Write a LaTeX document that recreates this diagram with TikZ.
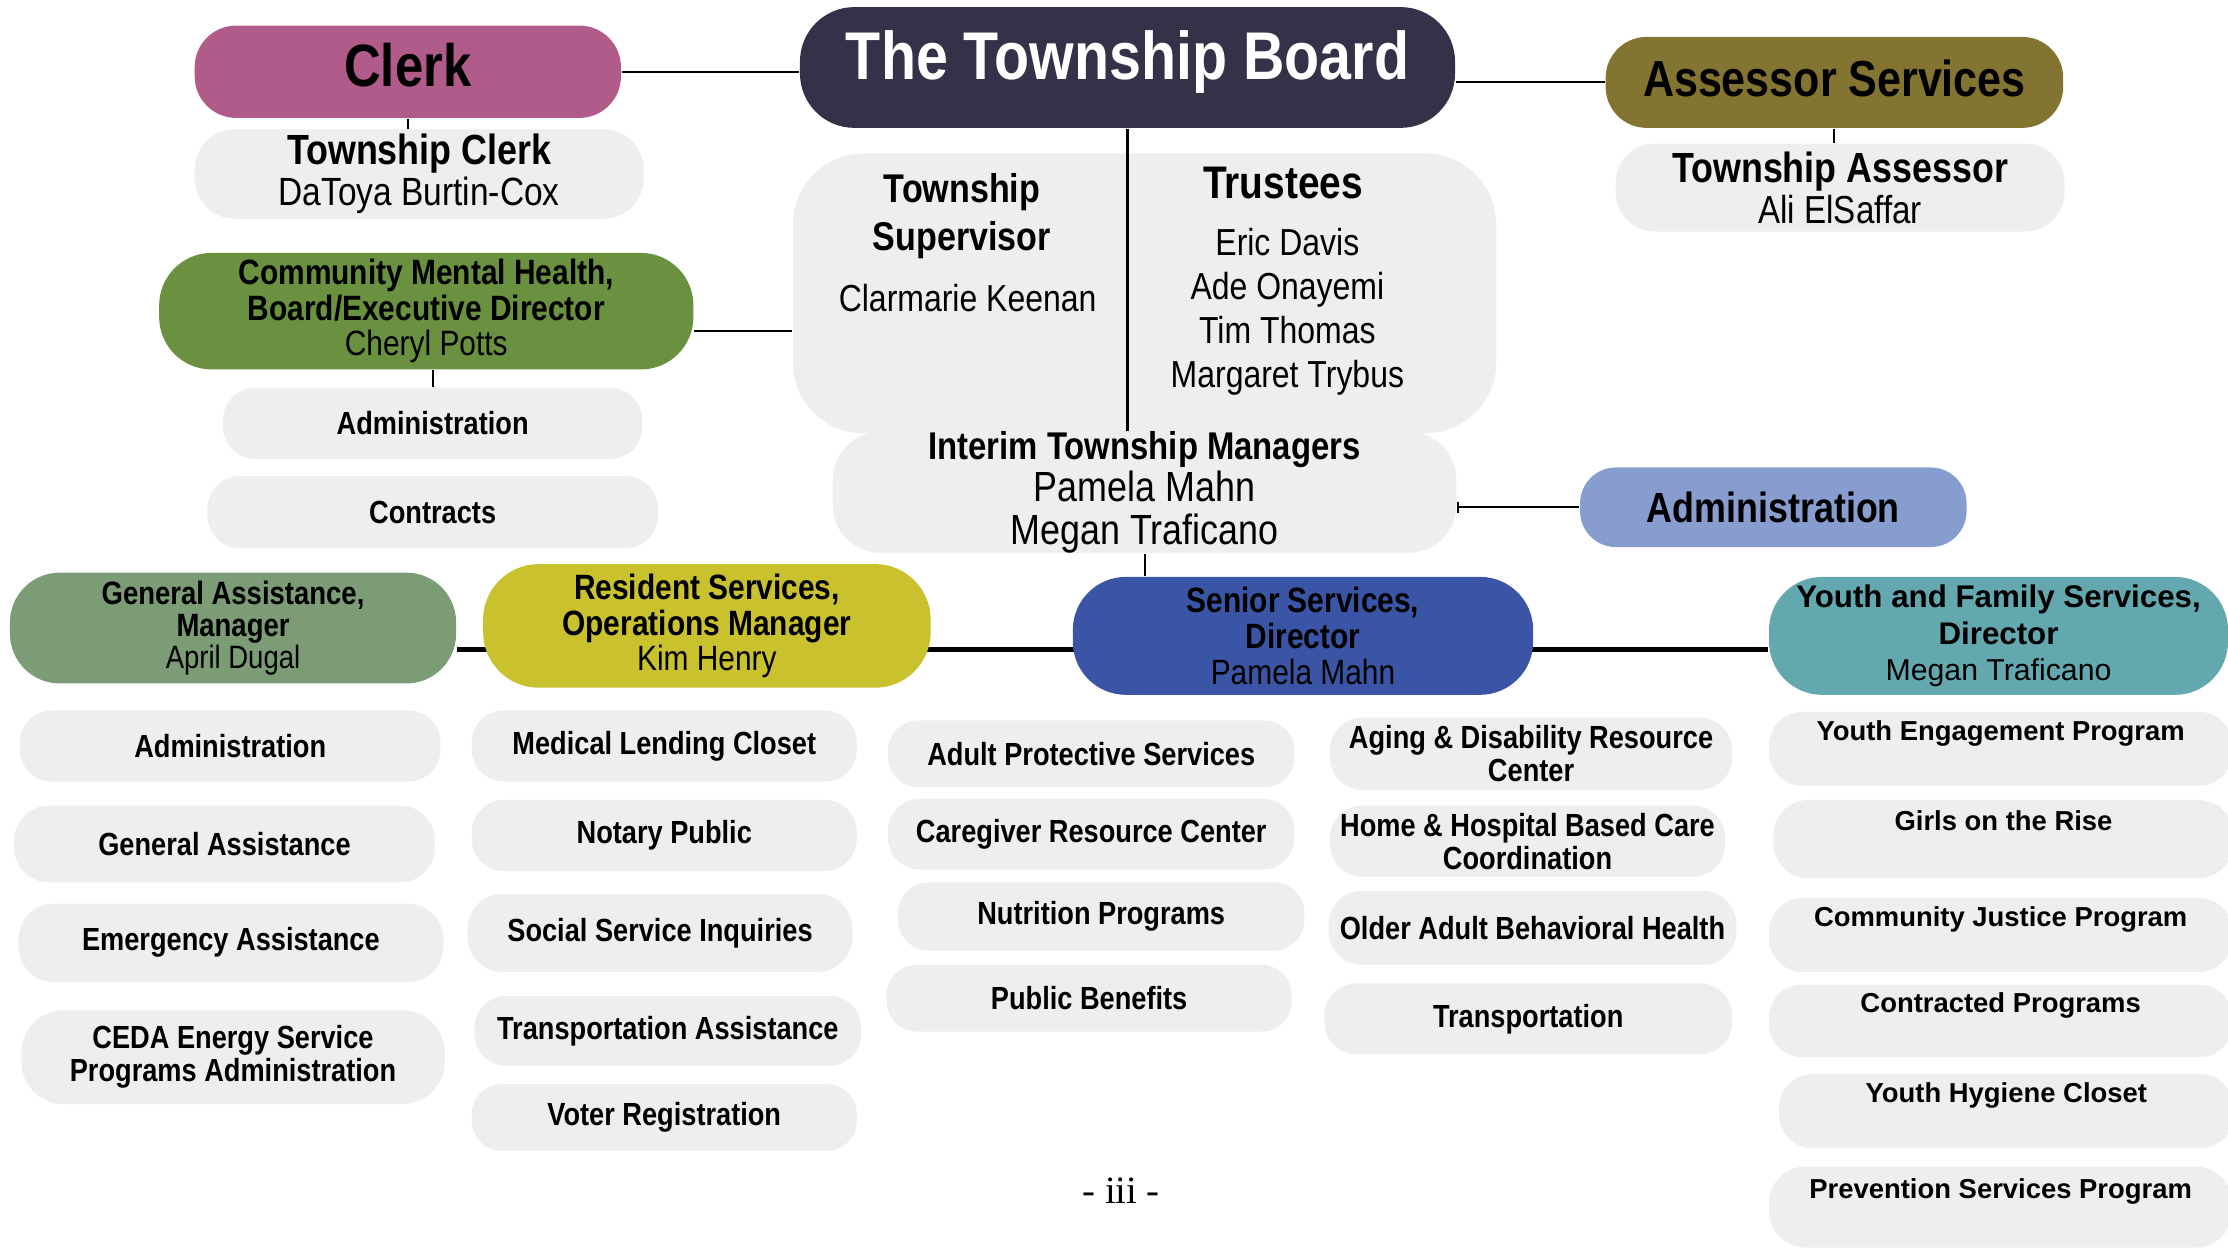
\documentclass[tikz,border=0pt]{standalone}
\usepackage{fontspec}
\setmainfont{Liberation Sans}[FakeStretch=0.85]
\newfontfamily\widefont{Liberation Sans}
\newfontfamily\pagefont{Liberation Serif}
\usetikzlibrary{arrows.meta,backgrounds}
\definecolor{clerkpink}{HTML}{B15B8B}
\definecolor{boardnavy}{HTML}{343248}
\definecolor{assessorolive}{HTML}{837431}
\definecolor{mentalgreen}{HTML}{6A913F}
\definecolor{adminblue}{HTML}{879CCF}
\definecolor{gasage}{HTML}{7B9C75}
\definecolor{rsyellow}{HTML}{C9C12E}
\definecolor{seniorblue}{HTML}{3A55A5}
\definecolor{youthteal}{HTML}{64A8AF}
\definecolor{boxgray}{HTML}{EFEEEF}
\newcommand{\pu}{0.01421cm}
\newcommand{\fs}[2]{\fontsize{#1}{#2}\selectfont}
% #1 style, #2 name, #3 x, #4 y, #5 width, #6 height, #7 text
\newcommand{\pill}[7]{\node[minimum width=#5*\pu, minimum height=#6*\pu, rounded corners=0.45*#6*\pu, #1] (#2) at (#3,#4) {#7};}
\tikzset{
  lead/.style={align=center, inner sep=0pt, text=black},
  dept/.style={fill=boxgray, align=center, inner sep=0pt, font=\bfseries\fs{9.1}{9.4}},
  deptwide/.style={dept, font=\widefont\bfseries\fs{7.8}{10.5}},
  link/.style={draw=black, line width=0.6pt},
  bus/.style={draw=black, line width=1.3pt}
}

\begin{document}
\begin{tikzpicture}[x=0.01421cm, y=-0.01421cm]
  \useasboundingbox (0,0) rectangle (1568,878);
  % ------------------------------------------------------------ board row
  \pill{lead, fill=boardnavy, text=white, font=\bfseries\fs{19.2}{22}, text depth=6.8pt}{board}{793.5}{47.5}{461}{85}{The Township Board}
  \pill{lead, fill=clerkpink, font=\bfseries\fs{17}{20}, text depth=4pt}{clerk}{287}{50.5}{300}{65}{Clerk}
  \pill{lead, fill=assessorolive, font=\bfseries\fs{14.4}{16}, text depth=2.4pt}{assessor}{1291}{58}{322}{64}{Assessor Services}
  \pill{dept, font=\fs{11.2}{11.7}}{clerkname}{295}{122.5}{316}{63}{{\fs{12}{11.7}\textbf{Township Clerk}}\\DaToya Burtin-Cox}
  \pill{dept, font=\fs{11.1}{11.7}}{assessorname}{1295}{132}{316}{62}{{\fs{12}{11.7}\textbf{Township Assessor}}\\Ali ElSaffar}
  % ------------------------------------------------------------ supervisor and trustees
  \pill{dept, rounded corners=50*\pu}{trustees}{805.5}{206.5}{495}{197}{}
  \node[font=\bfseries\fs{11.4}{13.7}, align=center] (suptitle) at (677,152) {Township\\Supervisor};
  \node[font=\fs{10.7}{12}] (supname) at (681,210) {Clarmarie Keenan};
  \node[font=\bfseries\fs{13}{15}] (trtitle) at (903,129) {Trustees};
  \node[font=\fs{10.7}{12.5}, align=center] (trnames) at (906,219.5) {Eric Davis\\Ade Onayemi\\Tim Thomas\\Margaret Trybus};
  \pill{dept, font=\fs{12}{12}}{interim}{805.5}{346.5}{439}{75}{{\fs{11}{12}\textbf{Interim Township Managers}}\\Pamela Mahn\\Megan Traficano}
  \pill{lead, fill=adminblue, font=\bfseries\fs{12}{14}}{admin}{1248}{357}{272}{56}{Administration}
  % ------------------------------------------------------------ mental health board
  \pill{lead, fill=mentalgreen, font=\fs{10}{10.1}}{cmh}{300}{219}{376}{82}{\textbf{Community Mental Health,}\\\textbf{Board/Executive Director}\\Cheryl Potts}
  \pill{dept}{cmhadmin}{304.5}{298}{295}{50}{Administration}
  \pill{dept}{cmhcontracts}{304.5}{360.5}{317}{51}{Contracts}
  % ------------------------------------------------------------ directors
  \pill{lead, fill=gasage, font=\fs{9.2}{9.2}}{ga}{164}{442}{314}{78}{\textbf{General Assistance,}\\\textbf{Manager}\\April Dugal}
  \pill{lead, fill=rsyellow, font=\fs{10}{10.1}}{rs}{497.5}{440.5}{315}{87}{\textbf{Resident Services,}\\\textbf{Operations Manager}\\Kim Henry}
  \pill{lead, fill=seniorblue, font=\fs{10}{10.3}}{senior}{917}{447.5}{324}{83}{\textbf{Senior Services,}\\\textbf{Director}\\Pamela Mahn}
  \pill{lead, fill=youthteal, font=\widefont\fs{8.6}{10.3}}{youth}{1406.5}{447.5}{323}{83}{{\fs{8.9}{10.3}\textbf{Youth and Family Services,}}\\{\fs{8.9}{10.3}\textbf{Director}}\\Megan Traficano}
  % ------------------------------------------------------------ general assistance units
  \pill{dept}{gaadmin}{162}{525}{296}{50}{Administration}
  \pill{dept}{gagen}{158}{594}{296}{54}{General Assistance}
  \pill{dept}{gaemerg}{162.5}{663.5}{299}{55}{Emergency Assistance}
  \pill{dept}{gaceda}{164}{744}{298}{66}{CEDA Energy Service\\Programs Administration}
  % ------------------------------------------------------------ resident services units
  \pill{dept}{rsmed}{467.5}{525}{271}{50}{Medical Lending Closet}
  \pill{dept}{rsnotary}{467.5}{588}{271}{50}{Notary Public}
  \pill{dept}{rssocial}{464.5}{656.5}{271}{55}{Social Service Inquiries}
  \pill{dept}{rstransp}{470}{725.5}{272}{49}{Transportation Assistance}
  \pill{dept}{rsvoter}{467.5}{786.5}{271}{47}{Voter Registration}
  % ------------------------------------------------------------ senior services units
  \pill{dept}{sradult}{768}{530.5}{286}{47}{Adult Protective Services}
  \pill{dept}{srcare}{768}{587}{286}{50}{Caregiver Resource Center}
  \pill{dept}{srnutri}{775}{645}{286}{48}{Nutrition Programs}
  \pill{dept}{srbenef}{766.5}{702.5}{285}{47}{Public Benefits}
  \pill{dept}{sraging}{1077.5}{530.5}{283}{51}{Aging \& Disability Resource\\Center}
  \pill{dept}{srhome}{1075}{592}{278}{50}{Home \& Hospital Based Care\\Coordination}
  \pill{dept}{srolder}{1078.5}{653}{287}{52}{Older Adult Behavioral Health}
  \pill{dept}{srtransp}{1075.5}{717}{287}{50}{Transportation}
  % ------------------------------------------------------------ youth and family units
  \pill{deptwide}{yfengage}{1408}{527}{326}{52}{Youth Engagement Program\\\mbox{}}
  \pill{deptwide}{yfgirls}{1410}{590.5}{324}{55}{Girls on the Rise\\\mbox{}}
  \pill{deptwide}{yfjustice}{1408}{658}{326}{52}{Community Justice Program\\\mbox{}}
  \pill{deptwide}{yfcontract}{1408}{718.5}{326}{51}{Contracted Programs\\\mbox{}}
  \pill{deptwide}{yfhygiene}{1412}{782}{320}{52}{Youth Hygiene Closet\\\mbox{}}
  \pill{deptwide}{yfprevent}{1408}{849.5}{326}{57}{Prevention Services Program\\\mbox{}}
  \node[font=\pagefont\fs{11}{13}] (page) at (789,838) {- iii -};
  % ------------------------------------------------------------ connectors
  \draw[link] (clerk.east) -- (clerk.east -| board.west);
  \draw[link] (assessor.west) -- (assessor.west -| board.east);
  \draw[link] (clerk.south) -- (clerk.south |- clerkname.north);
  \draw[link] (assessor.south) -- (assessor.south |- assessorname.north);
  \draw[link] (board.south) -- (board.south |- interim.north);
  \coordinate (cmhout) at ([yshift=-14*\pu]cmh.east);
  \draw[link] (cmhout) -- (cmhout -| trustees.west);
  \draw[link] (cmhadmin.north) -- (cmhadmin.north |- cmh.south);
  \draw[link, {Bar[width=3pt]}-] (interim.east |- admin.west) -- (admin.west);
  \draw[link] (interim.south) -- (interim.south |- senior.north);
  \begin{scope}[on background layer]
    \coordinate (busy) at ([yshift=-15*\pu]ga.east);
    \draw[bus] (busy) -- (busy -| youth.west);
  \end{scope}
\end{tikzpicture}
\end{document}
